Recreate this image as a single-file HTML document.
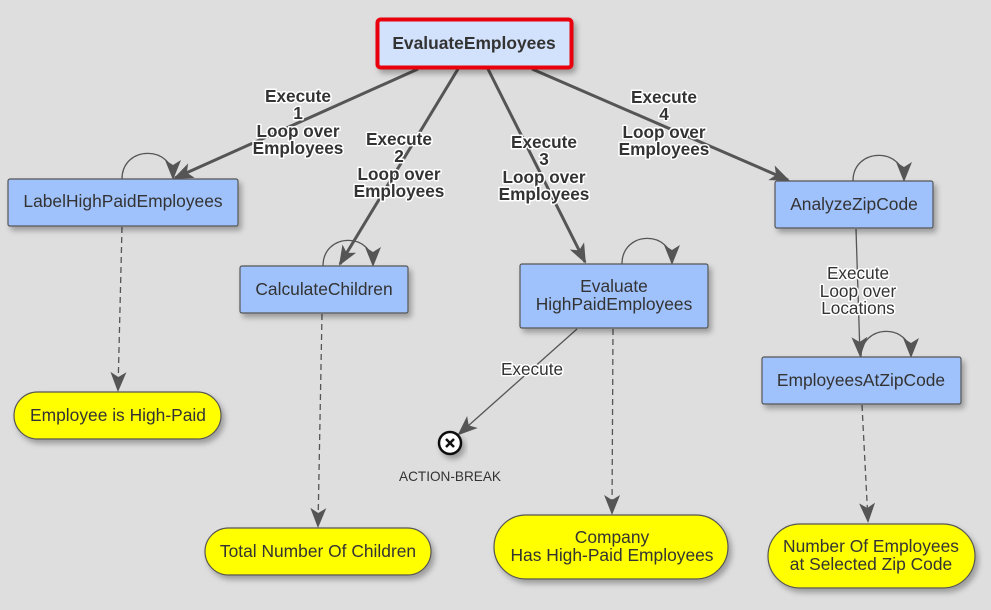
<!DOCTYPE html>
<html><head><meta charset="utf-8"><style>
html,body{margin:0;padding:0;background:#dedede;}
svg{display:block;font-family:"Liberation Sans",Arial,sans-serif;}
.box{fill:#a0c2fc;stroke:#555;stroke-width:1.2;filter:url(#sh);}
.pill{fill:#ffff00;stroke:#555;stroke-width:1.2;filter:url(#sh);}
.t{font-size:17.4px;fill:#333;text-anchor:middle;}
.lb{font-size:17.2px;font-weight:bold;fill:#333;text-anchor:middle;stroke:#fff;stroke-width:3;paint-order:stroke;stroke-linejoin:round;}
.ln{font-size:17.2px;fill:#333;text-anchor:middle;stroke:#fff;stroke-width:3;paint-order:stroke;stroke-linejoin:round;}
.e{stroke:#555;stroke-width:3;fill:none;}
.d{stroke:#555;stroke-width:1.3;fill:none;stroke-dasharray:6,4;}
.th{stroke:#555;stroke-width:1.3;fill:none;}
</style></head><body>
<svg width="991" height="610" viewBox="0 0 991 610">
<defs>
<filter id="sh" x="-20%" y="-30%" width="150%" height="180%"><feDropShadow dx="3" dy="4" stdDeviation="3" flood-color="#000" flood-opacity="0.3"/></filter>
<marker id="ab2" markerWidth="20" markerHeight="20" refX="18" refY="10" orient="auto" markerUnits="userSpaceOnUse" viewBox="0 0 20 20"><path d="M0,2 L20,10 L0,18 L5,10z" fill="#555"/></marker>
</defs>

<line class="e" x1="418" y1="69" x2="175" y2="178" marker-end="url(#ab2)"/>
<line class="e" x1="458" y1="69" x2="340" y2="264" marker-end="url(#ab2)"/>
<line class="e" x1="488" y1="69" x2="585" y2="262" marker-end="url(#ab2)"/>
<line class="e" x1="532" y1="69" x2="788" y2="180" marker-end="url(#ab2)"/>

<path class="th" d="M122,179 C122,145 173,145 173,178" marker-end="url(#ab2)"/>
<path class="th" d="M323,266 C323,232 373,232 373,265" marker-end="url(#ab2)"/>
<path class="th" d="M622,264 C622,230 672,230 672,263" marker-end="url(#ab2)"/>
<path class="th" d="M853,181 C853,147 904,147 904,180" marker-end="url(#ab2)"/>
<path class="th" d="M861,357 C861,323 911,323 911,356" marker-end="url(#ab2)"/>

<line class="d" x1="122" y1="227" x2="118" y2="390" marker-end="url(#ab2)"/>
<line class="d" x1="322" y1="314" x2="318" y2="526" marker-end="url(#ab2)"/>
<line class="d" x1="613" y1="329" x2="612" y2="513" marker-end="url(#ab2)"/>
<line class="d" x1="862" y1="405" x2="868" y2="521" marker-end="url(#ab2)"/>

<line class="th" x1="856" y1="229" x2="860" y2="355" marker-end="url(#ab2)"/>
<line class="th" x1="577" y1="329" x2="459" y2="434" marker-end="url(#ab2)"/>

<rect x="377.5" y="19.5" width="194" height="48" rx="3" fill="#d3e2fc" stroke="#e8000f" stroke-width="4" filter="url(#sh)"/>
<text x="474" y="49" class="t" style="font-weight:bold">EvaluateEmployees</text>

<rect class="box" x="8" y="179" width="230" height="47" rx="2"/>
<text class="t" x="123" y="207">LabelHighPaidEmployees</text>
<rect class="box" x="240" y="266" width="168" height="47" rx="2"/>
<text class="t" x="324" y="295">CalculateChildren</text>
<rect class="box" x="520" y="264" width="188" height="64" rx="2"/>
<text class="t" x="614" y="292">Evaluate</text>
<text class="t" x="614" y="310">HighPaidEmployees</text>
<rect class="box" x="775" y="181" width="158" height="47" rx="2"/>
<text class="t" x="854" y="210">AnalyzeZipCode</text>
<rect class="box" x="762" y="357" width="199" height="47" rx="2"/>
<text class="t" x="861" y="386">EmployeesAtZipCode</text>

<rect class="pill" x="14" y="392" width="207" height="47" rx="23.5"/>
<text class="t" x="118" y="421">Employee is High-Paid</text>
<rect class="pill" x="205" y="528" width="226" height="47" rx="23.5"/>
<text class="t" x="318" y="557">Total Number Of Children</text>
<rect class="pill" x="494" y="515" width="234" height="64" rx="32"/>
<text class="t" x="612" y="543">Company</text>
<text class="t" x="612" y="561">Has High-Paid Employees</text>
<rect class="pill" x="768" y="524" width="207" height="64" rx="32"/>
<text class="t" x="871" y="552">Number Of Employees</text>
<text class="t" x="871" y="570">at Selected Zip Code</text>

<circle cx="450" cy="443" r="11" fill="#fff" stroke="#111" stroke-width="2.5" filter="url(#sh)"/>
<path d="M446,439 L454,447 M454,439 L446,447" stroke="#111" stroke-width="2.5"/>
<text x="450" y="481" style="font-size:13.6px;fill:#333;text-anchor:middle">ACTION-BREAK</text>

<g class="lb">
<text x="298" y="102">Execute</text><text x="298" y="119">1</text><text x="298" y="137">Loop over</text><text x="298" y="154">Employees</text>
<text x="399" y="145">Execute</text><text x="399" y="162">2</text><text x="399" y="180">Loop over</text><text x="399" y="197">Employees</text>
<text x="544" y="148">Execute</text><text x="544" y="165">3</text><text x="544" y="183">Loop over</text><text x="544" y="200">Employees</text>
<text x="664" y="103">Execute</text><text x="664" y="120">4</text><text x="664" y="138">Loop over</text><text x="664" y="155">Employees</text>
</g>
<g class="ln">
<text x="532" y="375">Execute</text>
<text x="858" y="279">Execute</text><text x="858" y="297">Loop over</text><text x="858" y="314">Locations</text>
</g>
</svg>
</body></html>
